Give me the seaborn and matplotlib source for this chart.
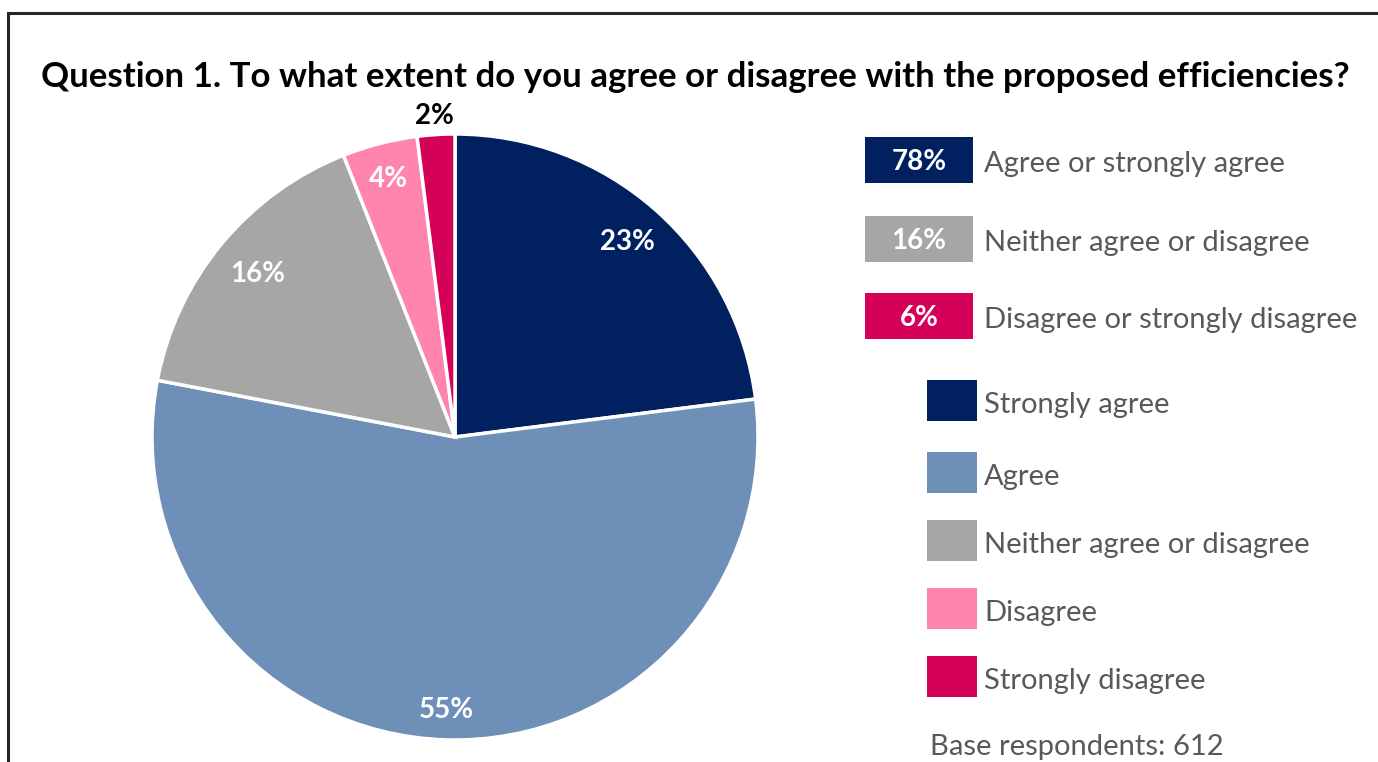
import matplotlib
matplotlib.use("Agg")
import matplotlib.pyplot as plt
from matplotlib.patches import Rectangle
import numpy as np
import seaborn as sns

# Survey responses (percent of respondents)
categories = ["Strongly agree", "Agree", "Neither agree or disagree",
              "Disagree", "Strongly disagree"]
shares = [23, 55, 16, 4, 2]
colors = ["#002060", "#6E8FB8", "#A6A6A6", "#FF85AE", "#D50058"]

summary_labels = ["Agree or strongly agree", "Neither agree or disagree",
                  "Disagree or strongly disagree"]
summary_values = [shares[0] + shares[1], shares[2], shares[3] + shares[4]]
summary_colors = ["#002060", "#A6A6A6", "#D50058"]

title = "Question 1. To what extent do you agree or disagree with the proposed efficiencies?"
base_note = "Base respondents: 612"

sns.set_theme(style="white")
plt.rcParams["font.family"] = ["Lato", "DejaVu Sans"]

W, H = 1378, 762
fig = plt.figure(figsize=(W / 100, H / 100), dpi=100)
fig.patch.set_facecolor("white")


def fx(px):
    return px / W


def fy(py):
    return 1 - py / H


# outer frame (continues past the right and bottom edges)
fig.add_artist(Rectangle((fx(8), fy(800)), fx(1400), (800 - 13) / H,
                         fill=False, edgecolor="#262626", linewidth=2.2,
                         transform=fig.transFigure))

fig.text(fx(695), fy(77), title, ha="center", va="center",
         fontsize=25.1, fontweight="bold", color="black")

# pie
cx, cy, r = 455, 437, 303
ax = fig.add_axes([fx(cx - r), fy(cy + r), (2 * r) / W, (2 * r) / H])
wedges, _ = ax.pie(shares, colors=colors, startangle=90, counterclock=False,
                   radius=1.0,
                   wedgeprops=dict(edgecolor="white", linewidth=2.5))
ax.set_xlim(-1, 1)
ax.set_ylim(-1, 1)
ax.set_aspect("auto")
ax.axis("off")

label_r = [0.86, 0.9, 0.845, 0.88, 1.06]
label_c = ["white", "white", "white", "white", "black"]
ang = 90.0
for s, lr, lc in zip(shares, label_r, label_c):
    mid = ang - s * 3.6 / 2
    ang -= s * 3.6
    t = np.deg2rad(mid)
    ax.text(lr * np.cos(t), lr * np.sin(t), f"{s}%", ha="center", va="center",
            fontsize=20, fontweight="bold", color=lc)

# summary boxes
text_grey = "#595959"
box_tops = [137, 216, 293]
for top, lab, val, col in zip(box_tops, summary_labels, summary_values, summary_colors):
    fig.add_artist(Rectangle((fx(865), fy(top + 46)), fx(108), 46 / H,
                             facecolor=col, edgecolor="none",
                             transform=fig.transFigure))
    fig.text(fx(919), fy(top + 25), f"{val}%", ha="center", va="center",
             fontsize=20, fontweight="bold", color="white")
    fig.text(fx(984), fy(top + 27), lab, ha="left", va="center",
             fontsize=21, color=text_grey)

# category key
key_tops = [380, 452, 520, 588, 656]
for top, lab, col in zip(key_tops, categories, colors):
    fig.add_artist(Rectangle((fx(927), fy(top + 41)), fx(50), 41 / H,
                             facecolor=col, edgecolor="none",
                             transform=fig.transFigure))
    fig.text(fx(984), fy(top + 25), lab, ha="left", va="center",
             fontsize=21, color=text_grey)

fig.text(fx(930), fy(747), base_note, ha="left", va="center",
         fontsize=21, color=text_grey)

fig.savefig("out.png", dpi=100, facecolor="white")
